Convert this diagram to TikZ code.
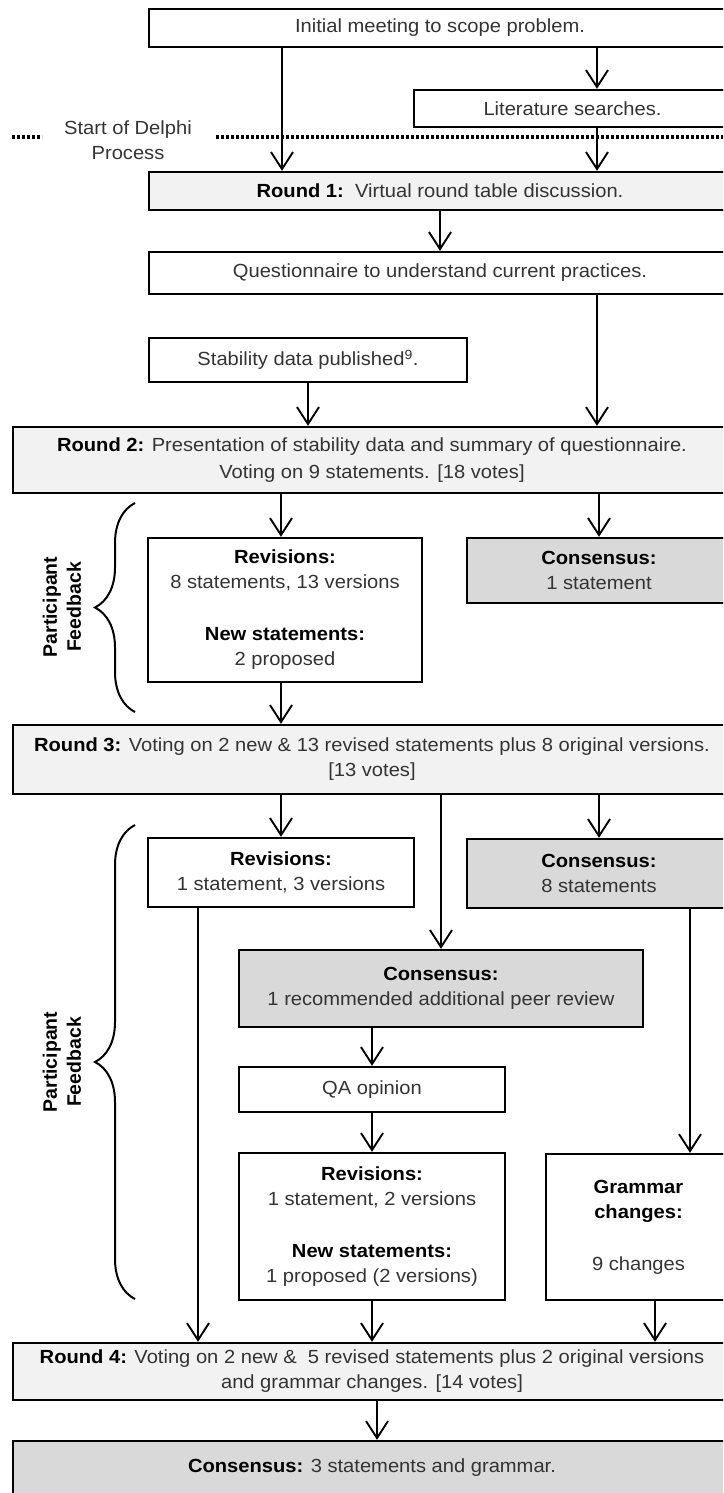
\documentclass[tikz,border=0pt]{standalone}
\usepackage{fontspec}
\setmainfont{Liberation Sans}[FakeStretch=1.06]
\newfontfamily\sidefont{Liberation Sans}
\usepackage{xcolor}
\usetikzlibrary{arrows.meta, decorations.pathreplacing}

\definecolor{roundgray}{HTML}{F2F2F2}
\definecolor{consgray}{HTML}{D9D9D9}
\newcommand{\hd}[1]{\textbf{\color{black}#1}}

\begin{document}
\begin{tikzpicture}[x=1pt, y=-1pt, font={\fontsize{19}{25}\selectfont},
  box/.style={draw, line width=2.4pt, fill=white, inner sep=0pt, align=center, text=black!80},
  roundbox/.style={box, fill=roundgray},
  consbox/.style={box, fill=consgray},
  arr/.style={line width=1.9pt, -{Straight Barb[length=17pt, width=22pt]}},
  delphiline/.style={line width=3.6pt, dash pattern=on 3pt off 2pt},
  fbbrace/.style={line width=2pt, decorate, decoration={brace, amplitude=40pt}},
  sidelbl/.style={rotate=90, align=center, inner sep=0pt, font={\sidefont\bfseries\fontsize{19.5}{24}\selectfont}},
  note/.style={align=center, inner sep=0pt, text=black!80}]

  \path[use as bounding box, clip] (0,0) rectangle (723,1493);

  % before the Delphi process
  \node[box, minimum width=582pt, minimum height=38pt] (init) at (440,28) {Initial meeting to scope problem.};
  \node[box, minimum width=317pt, minimum height=37pt] (lit) at (572.5,108.5) {Literature searches.};

  \draw[delphiline] (12,137) -- (42,137);
  \draw[delphiline] (216,137) -- (731,137);
  \node[note] (delphi) at (128,140) {Start of Delphi\\Process};

  % round 1 and 2
  \node[roundbox, minimum width=582pt, minimum height=38pt] (r1) at (440,191) {\hd{Round 1:}\ \ Virtual round table discussion.};
  \node[box, minimum width=582pt, minimum height=42pt] (quest) at (440,273) {Questionnaire to understand current practices.};
  \node[box, minimum width=318pt, minimum height=44pt] (stab) at (308,360) {Stability data published\textsuperscript{9}.};
  \node[roundbox, minimum width=718pt, minimum height=66pt] (r2) at (372,460) {\hd{Round 2:} Presentation of stability data and summary of questionnaire.\\[2pt]Voting on 9 statements. [18 votes]};

  \node[box, minimum width=274pt, minimum height=144pt] (rev1) at (285,610) {\hd{Revisions:}\\8 statements, 13 versions\\[27pt]\hd{New statements:}\\2 proposed};
  \node[consbox, minimum width=264pt, minimum height=65pt] (cons1) at (599,570.5) {\hd{Consensus:}\\1 statement};

  % round 3
  \node[roundbox, minimum width=718pt, minimum height=69pt] (r3) at (372,759.5) {\hd{Round 3:} Voting on 2 new \& 13 revised statements plus 8 original versions.\\{}[13 votes]};
  \node[box, minimum width=266pt, minimum height=69pt] (rev2) at (281,872.5) {\hd{Revisions:}\\1 statement, 3 versions};
  \node[consbox, minimum width=264pt, minimum height=69pt] (cons2) at (599,873.5) {\hd{Consensus:}\\8 statements};
  \node[consbox, minimum width=404pt, minimum height=77pt] (cons3) at (441,988.5) {\hd{Consensus:}\\1 recommended additional peer review};
  \node[box, minimum width=266pt, minimum height=45pt] (qa) at (372,1089.5) {QA opinion};
  \node[box, minimum width=266pt, minimum height=147pt] (rev3) at (372,1226.5) {\hd{Revisions:}\\1 statement, 2 versions\\[27pt]\hd{New statements:}\\1 proposed (2 versions)};
  \node[box, minimum width=185pt, minimum height=146pt] (gram) at (638.5,1227) {\hd{Grammar}\\\hd{changes:}\\[27pt]9 changes};

  % round 4
  \node[roundbox, minimum width=718pt, minimum height=57pt] (r4) at (372,1371.5) {\hd{Round 4:} Voting on 2 new \&~ 5 revised statements plus 2 original versions\\and grammar changes. [14 votes]};
  \node[consbox, minimum width=718pt, minimum height=54pt] (final) at (372,1468) {\hd{Consensus:} 3 statements and grammar.};

  % participant feedback
  \coordinate (fbtopA) at (135,503);
  \coordinate (fbbotA) at (135,712);
  \coordinate (fbtopB) at (135,825);
  \coordinate (fbbotB) at (135,1299);
  \draw[fbbrace] (fbbotA) -- (fbtopA);
  \draw[fbbrace] (fbbotB) -- (fbtopB);
  \node[sidelbl] (fbA) at (62,607) {Participant\\Feedback};
  \node[sidelbl] (fbB) at (62,1062) {Participant\\Feedback};

  % columns of the arrows
  \coordinate (colA) at (282,0);
  \coordinate (colB) at (597,0);
  \coordinate (colC) at (690,0);
  \coordinate (colD) at (198,0);
  \coordinate (colE) at (655,0);
  \coordinate (colF) at (377,0);

  \draw[arr] (init.south -| colA) -- (r1.north -| colA);
  \draw[arr] (init.south -| colB) -- (lit.north -| colB);
  \draw[arr] (lit.south -| colB) -- (r1.north -| colB);
  \draw[arr] (r1) -- (quest);
  \draw[arr] (quest.south -| colB) -- (r2.north -| colB);
  \draw[arr] (stab) -- (r2.north -| stab);
  \draw[arr] (r2.south -| rev2) -- (rev1.north -| rev2);
  \draw[arr] (r2.south -| cons1) -- (cons1);
  \draw[arr] (rev1.south -| rev2) -- (r3.north -| rev2);
  \draw[arr] (r3.south -| rev2) -- (rev2);
  \draw[arr] (r3.south -| cons3) -- (cons3);
  \draw[arr] (r3.south -| cons2) -- (cons2);
  \draw[arr] (cons3.south -| qa) -- (qa);
  \draw[arr] (qa) -- (rev3);
  \draw[arr] (cons2.south -| colC) -- (gram.north -| colC);
  \draw[arr] (rev2.south -| colD) -- (r4.north -| colD);
  \draw[arr] (rev3) -- (r4.north -| rev3);
  \draw[arr] (gram.south -| colE) -- (r4.north -| colE);
  \draw[arr] (r4.south -| colF) -- (final.north -| colF);

\end{tikzpicture}
\end{document}
